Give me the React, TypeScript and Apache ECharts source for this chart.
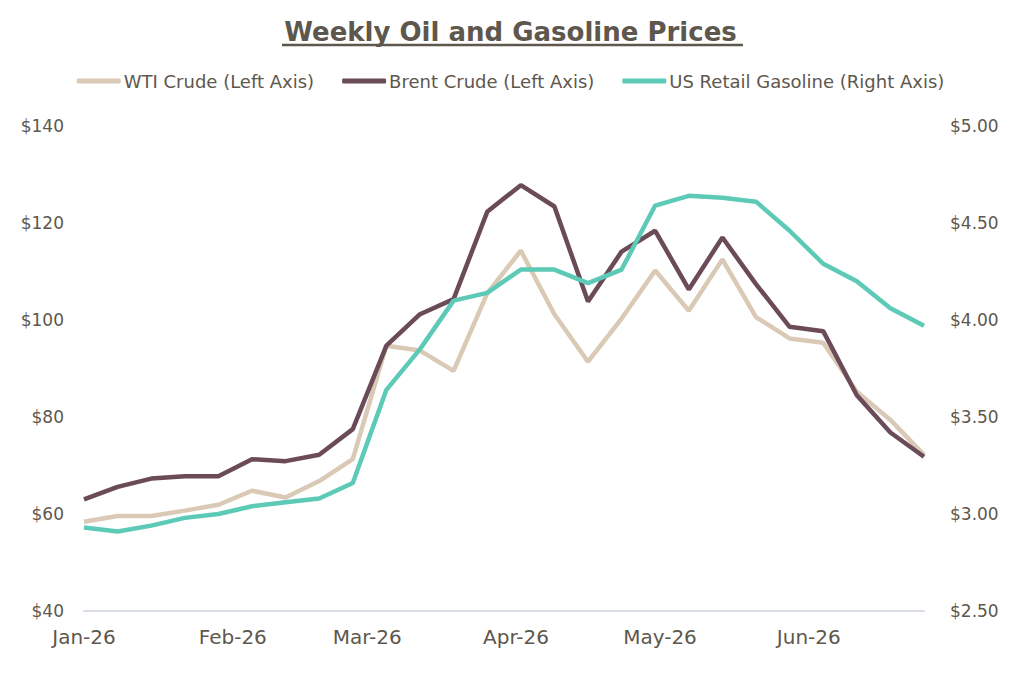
import React, { useEffect, useRef } from "react";
import * as echarts from "echarts";

const weeks = [
  "2026-01-01", "2026-01-08", "2026-01-15", "2026-01-22", "2026-01-29",
  "2026-02-05", "2026-02-12", "2026-02-19", "2026-02-26",
  "2026-03-05", "2026-03-12", "2026-03-19", "2026-03-26",
  "2026-04-02", "2026-04-09", "2026-04-16", "2026-04-23", "2026-04-30",
  "2026-05-07", "2026-05-14", "2026-05-21", "2026-05-28",
  "2026-06-04", "2026-06-11", "2026-06-18", "2026-06-25",
];

const wti = [58.4, 59.6, 59.6, 60.7, 61.9, 64.8, 63.4, 66.8, 71.3, 94.7, 93.7, 89.5, 105.5, 114.3, 101.2, 91.4, 100.3, 110.2, 101.9, 112.5, 100.6, 96.2, 95.3, 85.2, 79.4, 72.2];
const brent = [63.0, 65.6, 67.3, 67.8, 67.8, 71.3, 70.9, 72.2, 77.5, 94.7, 101.2, 104.3, 122.3, 127.8, 123.4, 103.8, 114.1, 118.4, 106.3, 117.0, 107.4, 98.6, 97.7, 84.5, 76.8, 71.8];
const gasoline = [2.93, 2.91, 2.94, 2.98, 3.0, 3.04, 3.06, 3.08, 3.16, 3.64, 3.85, 4.1, 4.14, 4.26, 4.26, 4.19, 4.26, 4.59, 4.64, 4.63, 4.61, 4.46, 4.29, 4.2, 4.06, 3.97];

const monthTicks = ["2026-01-01", "2026-02-01", "2026-03-01", "2026-04-01", "2026-05-01", "2026-06-01"];
const monthNames = ["Jan", "Feb", "Mar", "Apr", "May", "Jun", "Jul", "Aug", "Sep", "Oct", "Nov", "Dec"];

const seriesNames = ["WTI Crude (Left Axis)", "Brent Crude (Left Axis)", "US Retail Gasoline (Right Axis)"];
const colors = ["#d9c9b5", "#6b4b58", "#5ccab6"];

const TEXT = "#5e574d";
const FONT = "'DejaVu Sans', 'Noto Sans', sans-serif";
const DAY = 86400000;

function toTime(s: string) {
  const [y, m, d] = s.split("-").map(Number);
  return Date.UTC(y, m - 1, d);
}
const t0 = toTime(weeks[0]);
const dayOf = (s: string) => Math.round((toTime(s) - t0) / DAY);

export default function App() {
  const ref = useRef<HTMLDivElement>(null);
  useEffect(() => {
    if (!ref.current) return;
    const chart = echarts.init(ref.current, undefined, { renderer: "svg" });
    const mk = (vals: number[]) => weeks.map((w, i) => [dayOf(w), vals[i]]);
    chart.setOption({
      animation: false,
      backgroundColor: "#ffffff",
      title: {
        text: "Weekly Oil and Gasoline Prices",
        left: "center",
        top: 14,
        textStyle: { color: TEXT, fontSize: 26, fontWeight: "bold", fontFamily: FONT },
      },
      graphic: [
        {
          type: "line",
          shape: { x1: 282, y1: 45, x2: 743, y2: 45 },
          style: { stroke: TEXT, lineWidth: 2.5 },
        },
      ],
      legend: {
        top: 67,
        left: "center",
        itemGap: 28,
        itemWidth: 44,
        itemHeight: 5,
        icon: "roundRect",
        textStyle: { color: TEXT, fontSize: 18, fontFamily: FONT, padding: [0, 0, 0, -2] },
        data: seriesNames,
      },
      grid: { left: 84, right: 97, top: 126, bottom: 62, containLabel: false },
      xAxis: {
        type: "value",
        min: 0,
        max: dayOf(weeks[weeks.length - 1]),
        axisLine: { show: true, lineStyle: { color: "#d9dde6", width: 2 } },
        axisTick: { show: false },
        splitLine: { show: false },
        axisLabel: {
          customValues: monthTicks.map(dayOf),
          formatter: (v: number) => monthNames[new Date(t0 + v * DAY).getUTCMonth()] + "-26",
          color: TEXT,
          fontSize: 20,
          fontFamily: FONT,
          margin: 16,
        },
      },
      yAxis: [
        {
          type: "value",
          min: 40,
          max: 140,
          interval: 20,
          axisLine: { show: false },
          axisTick: { show: false },
          splitLine: { show: false },
          axisLabel: { color: TEXT, fontSize: 17, fontFamily: FONT, margin: 20, formatter: (v: number) => "$" + v },
        },
        {
          type: "value",
          min: 2.5,
          max: 5,
          interval: 0.5,
          position: "right",
          axisLine: { show: false },
          axisTick: { show: false },
          splitLine: { show: false },
          axisLabel: { color: TEXT, fontSize: 17, fontFamily: FONT, margin: 26, formatter: (v: number) => "$" + v.toFixed(2) },
        },
      ],
      series: [
        { name: seriesNames[0], type: "line", yAxisIndex: 0, data: mk(wti), showSymbol: false, symbol: "none", lineStyle: { width: 4.5, color: colors[0] }, itemStyle: { color: colors[0] } },
        { name: seriesNames[1], type: "line", yAxisIndex: 0, data: mk(brent), showSymbol: false, symbol: "none", lineStyle: { width: 4.5, color: colors[1] }, itemStyle: { color: colors[1] } },
        { name: seriesNames[2], type: "line", yAxisIndex: 1, data: mk(gasoline), showSymbol: false, symbol: "none", lineStyle: { width: 4.5, color: colors[2] }, itemStyle: { color: colors[2] } },
      ],
    });
    return () => chart.dispose();
  }, []);
  return <div ref={ref} style={{ position: "fixed", left: 0, top: 0, width: 1021, height: 673 }} />;
}
